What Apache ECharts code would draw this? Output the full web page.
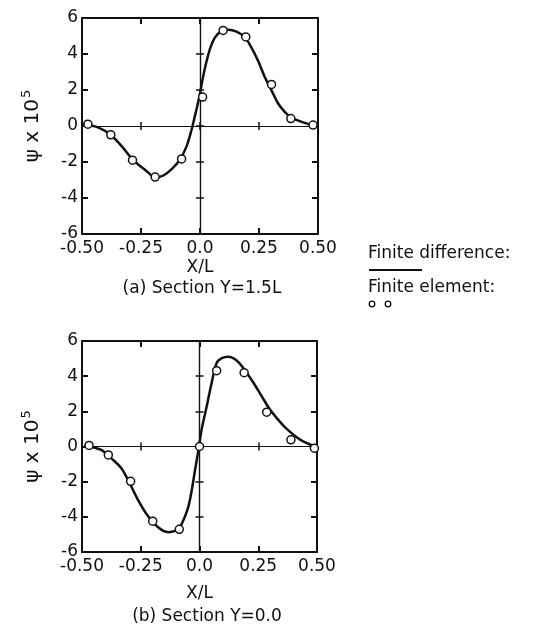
<!DOCTYPE html>
<html>
<head>
<meta charset="utf-8">
<script src="https://cdn.jsdelivr.net/npm/echarts@6/dist/echarts.min.js"></script>
<style>
html,body{margin:0;padding:0;background:#fff;}
#chart{width:533px;height:633px;}
</style>
</head>
<body>
<div id="chart"></div>
<script>
// ---- data ----
const xTickValues = [-0.5, -0.25, 0, 0.25, 0.5];
const xTickLabels = ['-0.50', '-0.25', '0.0', '0.25', '0.50'];
const yTickMin = -6, yTickMax = 6, yTickStep = 2;
const xAxisTitle = 'X/L';
const yAxisTitle = 'ψ x 10';
const yAxisExp = '5';
const panelTitles = ['(a) Section Y=1.5L', '(b) Section Y=0.0'];
const legendLineLabel = 'Finite difference:';
const legendPointLabel = 'Finite element:';

// Panel (a): Section Y = 1.5L
const diffA = [
  [-0.500, 0.12], [-0.430, -0.09], [-0.378, -0.50], [-0.331, -1.13], [-0.286, -1.85],
  [-0.226, -2.51], [-0.190, -2.85], [-0.155, -2.75], [-0.120, -2.40], [-0.085, -1.87],
  [-0.057, -1.13], [-0.036, -0.22], [-0.019, 0.70], [-0.003, 1.61], [0.010, 2.53],
  [0.025, 3.44], [0.042, 4.27], [0.063, 4.91], [0.091, 5.27], [0.120, 5.35],
  [0.155, 5.24], [0.190, 4.93], [0.218, 4.36], [0.246, 3.63], [0.275, 2.71],
  [0.303, 1.98], [0.331, 1.25], [0.359, 0.79], [0.387, 0.46], [0.423, 0.27],
  [0.458, 0.11], [0.483, 0.00]
];
const elemA = [
  [-0.475, 0.10], [-0.378, -0.49], [-0.286, -1.90], [-0.190, -2.84], [-0.078, -1.83],
  [0.011, 1.61], [0.098, 5.31], [0.194, 4.95], [0.303, 2.31], [0.385, 0.41], [0.479, 0.05]
];

// Panel (b): Section Y = 0.0
const diffB = [
  [-0.490, 0.04], [-0.466, 0.00], [-0.416, -0.21], [-0.374, -0.69], [-0.331, -1.26],
  [-0.296, -2.12], [-0.260, -3.08], [-0.225, -3.85], [-0.175, -4.61], [-0.133, -4.87],
  [-0.104, -4.80], [-0.085, -4.62], [-0.069, -4.21], [-0.048, -3.45], [-0.033, -2.49],
  [-0.019, -1.34], [-0.002, 0.00], [0.009, 0.96], [0.031, 2.30], [0.052, 3.64],
  [0.073, 4.75], [0.095, 5.02], [0.123, 5.10], [0.158, 4.89], [0.190, 4.40],
  [0.229, 3.64], [0.265, 2.85], [0.300, 2.10], [0.336, 1.50], [0.371, 1.00],
  [0.428, 0.39], [0.484, 0.04]
];
const elemB = [
  [-0.470, 0.06], [-0.388, -0.48], [-0.293, -1.98], [-0.199, -4.25], [-0.086, -4.71],
  [0.000, 0.00], [0.073, 4.31], [0.190, 4.20], [0.286, 1.95], [0.389, 0.38], [0.489, -0.10]
];

// ---- chart construction ----
const FONT = 'DejaVu Sans';
const INK = '#111';
const panels = [
  { diff: diffA, elem: elemA, grid: { left: 82, top: 18, width: 236, height: 216 }, xNameGap: 25, title: panelTitles[0], titleX: 202, titleY: 289 },
  { diff: diffB, elem: elemB, grid: { left: 82, top: 341, width: 235, height: 211 }, xNameGap: 33, title: panelTitles[1], titleX: 207, titleY: 617 }
];

function xLabel(v) {
  for (let i = 0; i < xTickValues.length; i++) {
    if (Math.abs(xTickValues[i] - v) < 1e-9) return xTickLabels[i];
  }
  return '';
}

const grids = [], xAxes = [], yAxes = [], series = [], graphics = [];
panels.forEach((p, pi) => {
  grids.push(Object.assign({ containLabel: false }, p.grid));
  const xb = pi * 4, yb = pi * 4;
  const baseX = { type: 'value', gridIndex: pi, min: -0.5, max: 0.5, interval: 0.25, splitLine: { show: false } };
  const baseY = { type: 'value', gridIndex: pi, min: yTickMin, max: yTickMax, interval: yTickStep, splitLine: { show: false } };
  // bottom main x axis
  xAxes.push(Object.assign({}, baseX, {
    position: 'bottom',
    axisLine: { onZero: false, lineStyle: { color: INK, width: 2 } },
    axisTick: { inside: true, length: 6, lineStyle: { color: INK, width: 2 } },
    axisLabel: { formatter: xLabel, color: INK, fontFamily: FONT, fontSize: 17, margin: 6 },
    name: xAxisTitle, nameLocation: 'middle', nameGap: p.xNameGap,
    nameTextStyle: { color: INK, fontFamily: FONT, fontSize: 17 }
  }));
  // top frame x axis
  xAxes.push(Object.assign({}, baseX, {
    position: 'top',
    axisLine: { onZero: false, lineStyle: { color: INK, width: 2 } },
    axisTick: { inside: true, length: 6, lineStyle: { color: INK, width: 2 } },
    axisLabel: { show: false }
  }));
  // zero line x axes (ticks both ways -> cross)
  [true, false].forEach(ins => {
    xAxes.push(Object.assign({}, baseX, {
      position: 'bottom',
      axisLine: { onZero: true, onZeroAxisIndex: yb, lineStyle: { color: INK, width: 1.2 } },
      axisTick: { inside: ins, length: 4, lineStyle: { color: INK, width: 1.5 } },
      axisLabel: { show: false }
    }));
  });
  // left main y axis
  yAxes.push(Object.assign({}, baseY, {
    position: 'left',
    axisLine: { onZero: false, lineStyle: { color: INK, width: 2 } },
    axisTick: { inside: true, length: 6, lineStyle: { color: INK, width: 2 } },
    axisLabel: { color: INK, fontFamily: FONT, fontSize: 17, margin: 4 },
    name: '{p|' + yAxisTitle + '}{s|' + yAxisExp + '}', nameLocation: 'middle', nameGap: 37,
    nameTextStyle: {
      color: INK, fontFamily: FONT,
      rich: {
        p: { fontSize: 20, fontFamily: FONT, color: INK },
        s: { fontSize: 13, fontFamily: FONT, color: INK, padding: [0, 0, 12, 1] }
      }
    }
  }));
  // right frame y axis
  yAxes.push(Object.assign({}, baseY, {
    position: 'right',
    axisLine: { onZero: false, lineStyle: { color: INK, width: 2 } },
    axisTick: { inside: true, length: 6, lineStyle: { color: INK, width: 2 } },
    axisLabel: { show: false }
  }));
  // zero line y axes
  [true, false].forEach(ins => {
    yAxes.push(Object.assign({}, baseY, {
      position: 'left',
      axisLine: { onZero: true, onZeroAxisIndex: xb, lineStyle: { color: INK, width: 1.2 } },
      axisTick: { inside: ins, length: 4, lineStyle: { color: INK, width: 1.5 } },
      axisLabel: { show: false }
    }));
  });

  series.push({
    name: 'Finite difference', type: 'line', xAxisIndex: xb, yAxisIndex: yb,
    data: p.diff, showSymbol: false, smooth: 0.3,
    lineStyle: { color: INK, width: 2.5 }, z: 3, animation: false
  });
  series.push({
    name: 'Finite element', type: 'scatter', xAxisIndex: xb, yAxisIndex: yb,
    data: p.elem, symbol: 'circle', symbolSize: 8,
    itemStyle: { color: '#fff', borderColor: INK, borderWidth: 1.5, opacity: 1 },
    z: 4, animation: false
  });

  graphics.push({
    type: 'text', x: p.titleX, y: p.titleY,
    style: { text: p.title, fontFamily: FONT, fontSize: 17, fill: INK, align: 'center', verticalAlign: 'middle' }
  });
});

// legend drawn as graphic (text above symbol, as in reference)
graphics.push(
  { type: 'text', x: 368, y: 254, style: { text: legendLineLabel, fontFamily: FONT, fontSize: 17, fill: INK, verticalAlign: 'middle' } },
  { type: 'line', shape: { x1: 369, y1: 270, x2: 422, y2: 270 }, style: { stroke: INK, lineWidth: 2 } },
  { type: 'text', x: 368, y: 288, style: { text: legendPointLabel, fontFamily: FONT, fontSize: 17, fill: INK, verticalAlign: 'middle' } },
  { type: 'circle', shape: { cx: 372, cy: 304, r: 2.8 }, style: { fill: '#fff', stroke: INK, lineWidth: 1.3 } },
  { type: 'circle', shape: { cx: 388, cy: 304, r: 2.8 }, style: { fill: '#fff', stroke: INK, lineWidth: 1.3 } }
);

const chart = echarts.init(document.getElementById('chart'), null, { renderer: 'canvas' });
chart.setOption({
  backgroundColor: '#fff',
  animation: false,
  grid: grids,
  xAxis: xAxes,
  yAxis: yAxes,
  series: series,
  graphic: graphics
});
</script>
</body>
</html>
